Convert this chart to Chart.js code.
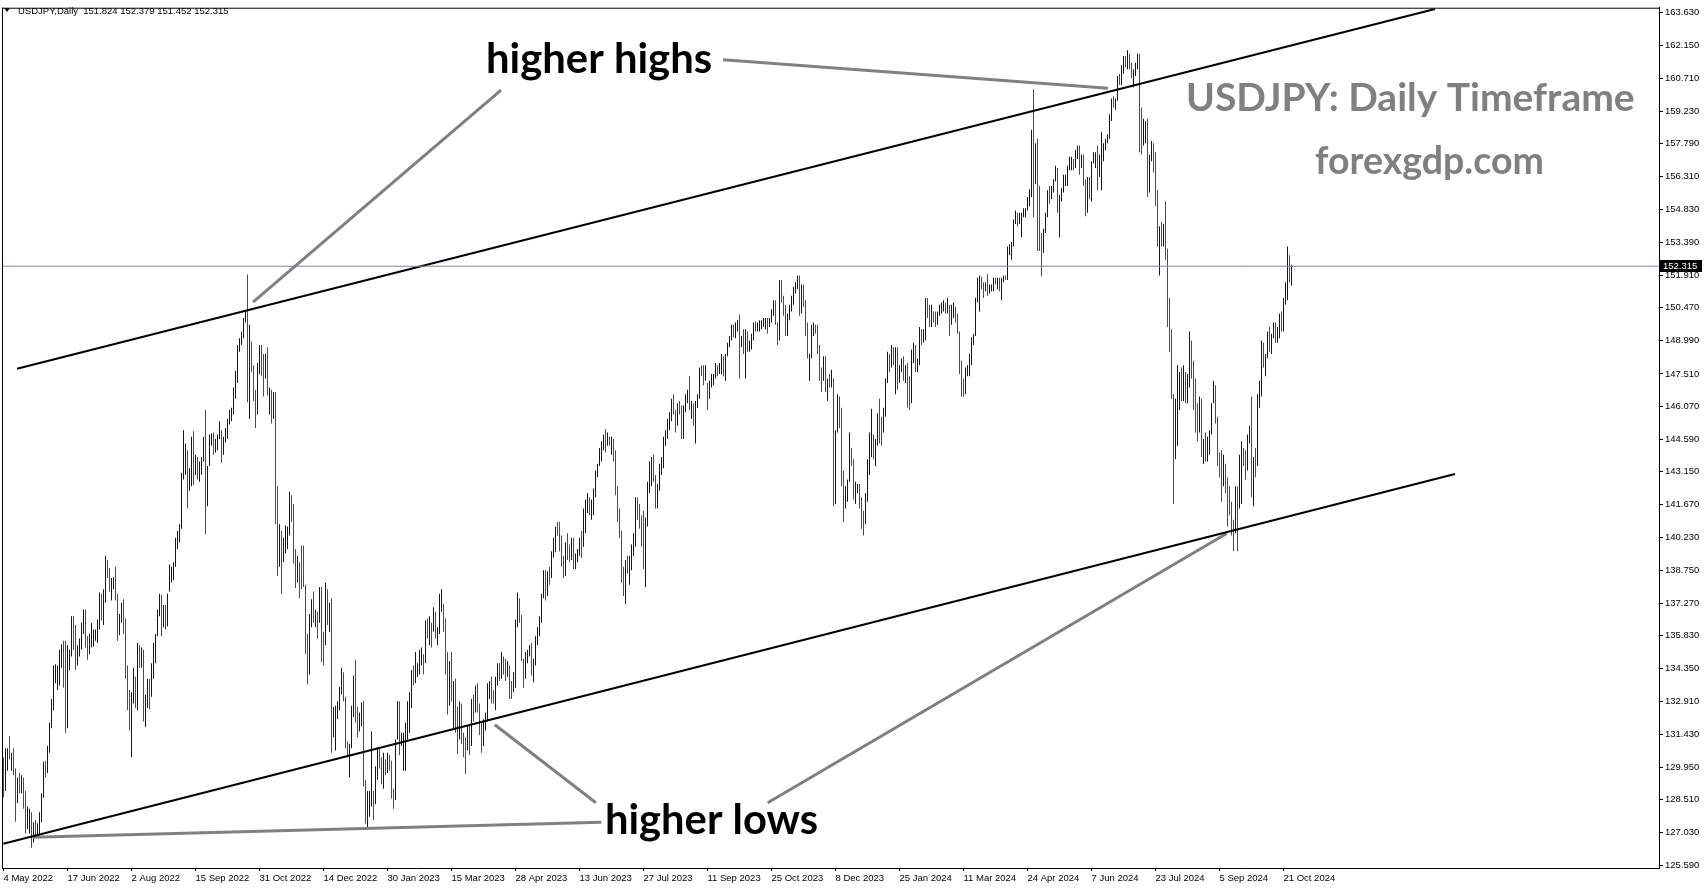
<!DOCTYPE html>
<html>
<head>
<meta charset="utf-8">
<title>USDJPY Daily</title>
<script src="https://cdn.jsdelivr.net/npm/chart.js@4.4.1/dist/chart.umd.min.js"></script>
<style>
  html, body { margin: 0; padding: 0; background: #fff; }
  #wrap { width: 1705px; height: 888px; }
</style>
</head>
<body>
<div id="wrap"><canvas id="chart" width="1705" height="888"></canvas></div>
<script>
// DATA : daily bars, 4 May 2022 -> 25 Oct 2024 (one line per month) ------------

const firstOpen = 130.08;

const highs = [
  130.4,130.8,130.8, 131.35,130.6,130.8,129.9,129.5, 129.7,129.6,129.5,128.9,128.2, 128.1,127.95,127.5,127.6,127.45, 127.95,128.8,
  130.2,130.25,130.9, 131.95,133,134.5,134.55,134.5, 135.2,135.45,135.6,135.6,135.4, 135.2,136.7,136.7,136.3,135.4, 135.7,136.4,137,137,
  135.8, 135.9,136.4,136.1,136.1,136.55, 137.75,137.7,137.9,139.4,139.2, 138.85,138.4,138.45,138.9,137.7, 136.8,137.3,137.45,136.6,134.5,
  133.4,133.3,134.4,134,135.5, 135.4,135.3,135.2,133.2,133.9, 133.9,134.6,135.5,135.9,137, 137.7,137.65,137.2,137.2,137.7, 139,138.9,139.1,
  140.2,140.5, 140.8,143.1,145,144.4,144.1, 143.3,144.7,144.95,143.9,143.8, 143.6,143.8,144.7,145.9,143.4, 144.8,144.85,144.9,144.6,144.8,
  145.4,145,144.7,145.1,145.5, 145.9,146,146.9,147.65,148.8, 149.1,149.4,150,150.3,151.95, 149.7,148.95,147.9,146.8,148, 148.8,
  148.8,148.4,148.4,148.7, 146.9,146.8,146.7,146.7,142.5, 140.8,140.5,140.2,140.75,140.7, 142.25,142.1,141.7,139.7,139.4, 139.1,139.85,139.85,
  138.1,135.9, 136.8,137.45,137.8,137,136.9, 138,138,136,138.2,137.9, 137.3,137.5,132.65,132.7,132.9, 133.55,134.4,134.2,133.1,
  131.1,131,132.7,134.05,134.75, 132.65,132.4,132.85,132.9,129.4, 128.9,128.9,131.55,128.9,130, 130.85,130.8,130.4,130.6,130.3, 130.6,130.5,
  130.25,129,131.2, 132.9,132.9,131.5,131.5,131.95, 132.9,133.3,134.3,134.5,135.1, 134.6,135.2,135.3,135,136.5, 136.6,136.7,
  136.4,137.1,136.9, 136.2,137.7,137.9,137.25,136.6, 135.1,134.7,135.1,133.8,133.9, 132.65,132.9,132.8,131.5,131.3, 131.8,131.8,133,133.2,133.6,
  133.7,132.8,131.95,132.1,132.4, 133.7,133.8,134,133.4,134, 134.6,134.6,135.1,134.9,134.8, 134.7,134.5,133.8,134.2,136.55,
  137.75,137.5,136.75,134.8,135.1, 135.2,135.4,135.5,134.8,135.8, 136.2,136.7,137.7,138.75,138.75, 138.7,138.9,139.6,140.2,140.7, 140.9,140.9,140.3,
  139.4,140, 140.4,139.9,140.2,140.2,139.5, 139.7,140.2,140.5,141.5,141.9, 142.2,142,141.9,142.4,143.2, 143.5,144.2,144.5,144.8,145.05,
  144.9,144.7,144.7,144.6,144.1, 142.5,141.5,140.5,138.9,139.2, 139.4,139.4,139.9,140.4,142, 142,141.7,141.2,141.4,141.1, 142.7,
  143.6,143.8,143.9,143, 142.6,143.5,143.8,144.7,145, 145.5,145.8,146.4,146.6,145.9, 146.2,146.3,146.1,146.1,146.6, 146.8,147.4,146.3,146.2,
  146.3, 146.6,147.8,147.9,147.9,147.9, 147.1,147.2,147.5,147.5,148, 147.9,148,148.4,148.3,148.4, 148.9,149.2,149.7,149.7,149.8,
  149.9,150.15,149.2,149.5,149.5, 149.4,149,149.3,149.8,149.85, 149.8,149.9,149.9,150,150, 150,150,150.4,150.8,150.8, 149.8,151.7,
  151.7,151,150.6, 150.2,150.6,151,151.4,151.6, 151.9,151.9,151.5,151.5,150.8, 149.8,148.4,149.7,149.8,149.7, 149.7,148.8,147.8,148.3,
  148.3, 147.3,147.5,147.7,147.3,145, 146.6,146.5,146,143.2,142.5, 142.8,144.9,144.2,143.7,142.7, 142.6,142.6,142,141.4,
  142.2,143.7,144.9,145.95, 144.8,144.6,145.75,146.4,145.6, 146,147.3,148.5,148.4,148.8, 148.7,148.7,148.7,147.9,148.2, 148.3,147.9,148,
  147.4,148.6, 148.9,148.8,148.2,149.6,149.5, 149.5,150.9,150.9,150.6,150.6, 150.3,150.3,150.3,150.6,150.7, 150.8,150.7,150.9,150.6,
  150.6, 150.7,150.5,150.2,149.4,148.1, 147.3,147.8,147.9,148.4,149.15, 149.3,150.9,151.8,151.9,151.85, 151.6,151.6,151.97,151.5,151.5,
  151.8,151.8,151.8,151.8,151.8, 151.9,151.9,153.2,153.3,153.4, 154.4,154.8,154.7,154.7,154.7, 154.9,154.9,155.4,155.75,158.4, 160.2,157.8,
  158,155.9,153.8, 154,154.7,155.7,155.9,155.9, 156.2,156.8,156.7,155.5,155.8, 156.4,156.4,156.8,157.2,157.2, 157.1,157.5,157.7,157.7,157.3,
  157.3,156.2,156.3,156.3,157, 157.4,157.4,157.7,157.3,158.3, 157.8,158,158.2,159.1,159.8, 159.9,159.8,160.8,160.9,161.3,
  161.7,161.7,161.95,161.8,161.4, 161.1,161.4,161.8,161.8,159.4, 158.9,158.8,158.9,157.3,157.9, 157.8,157.4,155.7,154.1,154.3, 154.2,155.2,153.1,
  150.9,149.5, 146.6,146.4,147.9,147.6,147.8, 147.9,147.6,147.5,149.4,149, 148.1,147.3,146.2,146.5,146.4, 144.6,144.9,144.7,145,146.2,
  147.2,147,145.6,144,144.1, 143.9,143.5,142.9,142.5,141.8, 141,142.5,142.5,143.9,144.5, 144.2,144.1,144.8,145.2,146.5, 143.8,
  144.2,146.6,147.2,149, 148.9,148.4,149.4,149.6,149.3, 149.8,149.8,149.6,150.2,150.3, 150.9,151.6,153.2,152.8,152.379
];

const lows = [
  128.62,128.9,129.8, 130.3,129.8,129.6,127.52,128.35, 128.8,128.8,128.1,127,127.2, 127,126.36,126.6,126.8,126.9, 126.9,127.5,
  128.6,129.5,129.7, 130.6,131.7,132.5,133.7,133.4, 133.6,134.4,133.5,131.5,131.7, 134.3,134.9,135.2,134.3,134.5, 134.9,135.2,135.9,135.3,
  134.75, 135,135.3,135.35,135.6,135.5, 136.1,136.5,136.3,137.3,138.4, 137.8,137.4,137.9,137.4,135.6, 135.85,136.4,135.9,133.9,132.5,
  131.6,130.4,132.8,132.6,132.5, 134.4,134.4,132,131.75,132.6, 132.55,133.1,133.9,134.6,135.8, 136.7,135.8,136.2,136.1,136.25, 137.8,138.2,138.3,
  138.9,139.7, 140,140.6,142.8,143,141.5, 142.3,142.5,142.55,143,142.8, 142.7,143,143.6,140.35,141.6, 143.4,144.3,143.9,144,144.1,
  144.6,143.55,143.9,144.45,144.6, 145.25,145.4,145.7,146.4,147.1, 148.5,148.8,149.1,149.8,146.25, 145.5,147.6,146.3,145.1,145.7, 147.5,
  147.4,146.5,147.3,146.55, 145.7,145.3,145.5,140.8,138.5, 138.9,137.7,139.1,139.5,139.7, 140.3,140.9,139.05,137.95,138.2, 137.5,137.9,138,
  135,133.65, 134.1,136.2,136.4,136.2,135.7, 136.4,134.65,134.5,135.4,136.3, 136,130.6,131.3,130.7,132.1, 132.5,133.2,132.9,130.8,
  130.4,129.5,130.8,132.2,131.95, 131.3,131.55,131.8,129.1,127.45, 127.2,127.75,128.2,127.6,128.3, 129.4,129.9,129.2,129,129.6, 129.7,129.8,
  128.55,128.1,128.5, 131.2,130.5,130.9,129.8,129.8, 131.2,131.5,132.6,133.6,133.7, 134,134.1,134.5,134.1,134.6, 135.7,135.4,
  135.3,136,135.7, 135.4,135.9,136.9,136,134.1, 132.3,132.7,132.9,131.7,131.5, 130.55,131.2,131,130.4,129.65, 130.7,130.5,130.9,132,132.4,
  132.4,131.4,130.6,130.9,131.6, 132,133,132.8,132.8,132.5, 133.6,133.8,133.9,134.1,133.8, 134,133,133,133.3,133.5,
  136.2,136.4,134.7,133.5,133.9, 134.6,134.9,134.05,133.75,134.5, 135.4,135.8,136.4,137.5,137.4, 137.6,138.1,138.4,139.3,139.55, 140.3,139.6,138.9,
  138.4,138.5, 139.2,139.1,139.2,138.8,138.8, 139.1,139.4,139.3,139.8,140.4, 141.3,141.2,141,141.2,142, 142.9,143.4,143.6,144.1,144,
  144.3,144.3,143.9,143.6,142.1, 140.9,140.2,138.2,137.6,137.25, 138.6,138.1,138.75,139.4,139.8, 141,140.6,139.8,138.8,138, 140.7,
  142.2,142.5,142.7,141.5, 141.5,142.3,143,143.3,144.3, 144.6,145,145.4,145.7,144.9, 145.2,145.7,144.6,144.6,145.8, 146.2,145.9,145.5,145.2,
  144.4, 146,146.4,147.4,147,147.2, 145.9,146.4,146.9,147,147.3, 147.4,147.5,147.5,147.4,147.2, 148.3,148.7,149,149.15,149.1,
  149.4,147.3,148.7,148.4,147.3, 148.5,148.5,148.6,149,149.4, 149.4,149.4,149.5,149.6,149.5, 149.3,149.6,149.8,150.1,149.7, 148.8,149,
  150.7,150.1,149.2, 149.2,149.9,150.3,150.6,151.1, 151.3,150.1,150.2,150.5,149.2, 148.2,147.2,148.2,149.2,149.3, 148.4,147.2,146.7,147.2,
  146.7, 146.3,146.9,146.9,141.6,141.7, 144.9,145.1,142.5,140.9,141.5, 141.8,142.7,143.4,141.9,141.7, 142.2,141.5,140.6,140.3,
  140.8,141.8,143,143.8, 143.7,143.4,144.3,144.4,144.3, 144.9,145.6,147.1,147.6,147.8, 147.9,146.6,146.8,147.1,147.6, 147.2,147.1,146,
  145.9,146.2, 148,147.6,147.6,147.9,148.8, 148.9,149,150,149.6,149.6, 149.8,149.6,149.7,150.1,150.2, 150.3,150.2,150.2,149.2,
  149.7, 150,149.8,149.3,147.5,146.5, 146.48,146.6,147.4,147.4,147.9, 148.8,149.2,150.7,150.3,151.3, 150.9,151.2,151,151.1,151.2,
  151.2,151.5,151.3,151.2,150.8, 151.6,151.7,151.7,152.8,152.6, 153.2,154.2,154.1,154.2,153.6, 154.5,154.5,154.8,155,155.4, 154.5,156,
  153,153,151.86, 152.9,153.8,154.5,155.1,155.3, 155.6,156.1,154.7,153.6,155.2, 155.6,155.9,155.9,156.6,156.6, 156.6,156.7,157.1,156.4,156.7,
  155.9,154.55,154.7,155.3,155.2, 156.9,156.7,155.7,156.3,155.7, 157,157.5,157.8,158,158.8, 159.4,159.3,159.7,160.4,160.4,
  160.9,161.2,161.1,161.1,160.7, 160.3,160.8,161.1,157.4,157.3, 157.7,157.8,155.4,155.6,157, 156.5,155,153.2,151.9,153.2, 153.2,152.6,149.6,
  148.5,146.4, 141.7,143.7,144.3,145.9,146.3, 146.3,146.2,146.2,146.9,147.3, 145.9,144.9,144.5,144.9,143.8, 143.5,143.6,143.6,143.9,144.8,
  146.2,145.3,143.4,142.9,141.8, 142.5,142.2,140.7,141.2,140.3, 139.6,140.4,139.6,141.5,141.7, 143.4,142.8,143.2,144.4,142, 141.6,
  142.9,143.4,146,146.5, 147.8,147.4,148.2,148.5,148.4, 149.1,148.9,148.9,149.1,149.4, 149.4,150.6,150.8,151.6,151.452
];

const closes = [
  129.08,130.2,130.55, 130.3,130.45,129.95,128.35,129.2, 129.1,129.4,128.25,127.8,127.87, 127.9,126.85,127.35,127.1,127.1, 127.6,128.7,
  130.1,129.85,130.85, 131.9,132.6,134.25,134.35,134.4, 134.4,135.45,134.4,132.2,134.95, 135,136.6,136.2,134.9,135.2, 135.45,136.15,136.6,135.75,
  135.2, 135.7,135.9,135.9,136,136.1, 137.4,136.85,137.4,138.95,138.55, 138.15,138.2,138.2,137.4,136.1, 136.65,136.95,136.6,134.25,133.25,
  131.6,133.15,133.9,133,135, 134.9,135,132.9,133,133.45, 133.3,134.2,134.95,135.9,136.9, 137.45,136.75,137.1,136.5,137.5, 138.7,138.75,138.95,
  140.2,140.2, 140.55,142.8,144,144.1,142.6, 142.8,144.6,143.2,143.5,142.9, 143.2,143.7,144.1,142.35,143.35, 144.7,144.8,144.15,144.45,144.75,
  144.8,144.05,144.55,145.1,145.3, 145.7,145.7,146.85,147.2,148.7, 149,149.25,149.85,150.15,147.65, 148.95,147.9,146.4,146.3,147.55, 148.7,
  148.2,147.85,148.05,146.6, 146.6,145.6,146.4,141,138.8, 139.9,139.3,139.5,140.25,140.35, 142.1,141.2,139.6,138.5,139.15, 138.9,138.7,138.1,
  135.3,134.3, 136.7,137,136.6,136.6,136.55, 137.7,135.6,135.5,137.75,136.7, 136.9,131.65,132.4,132.4,132.8, 133.5,134.3,133.1,131.1,
  130.7,131,132.45,133.4,132.1, 131.9,132.25,132.4,129.25,127.85, 128.55,128.6,128.9,128.4,129.6, 130.7,130.2,129.2,130.25,129.85, 130.4,130.1,
  128.9,128.7,131.2, 132.6,131.05,131.4,131.4,131.4, 132.4,133.15,134.1,133.9,134.2, 134.25,134.9,134.9,134.7,136.45, 136.2,136.2,
  136.1,136.75,135.85, 135.95,137.15,137.3,136.05,135, 133.2,134.25,133.4,133.75,131.8, 131.4,132.5,131.45,130.75,130.7, 131.55,130.9,132.85,132.7,132.8,
  132.5,131.7,131.3,131.8,132.2, 133.6,133.7,133.1,132.9,133.8, 134.5,134.1,134.7,134.25,134.15, 134.3,133.7,133.65,133.95,136.25,
  137.4,136.6,134.75,134.2,134.8, 135.1,135.2,134.35,134.5,135.7, 136.1,136.4,137.6,138.7,137.95, 138.6,138.5,139.45,140.05,140.6, 140.4,139.75,139.3,
  138.8,139.95, 139.6,139.55,140.1,139,139.4, 139.6,140.2,140,140.3,141.8, 141.9,141.4,141.8,142.1,143.1, 143.5,143.6,144.3,144.5,144.3,
  144.65,144.45,144.6,144.1,142.1, 141.3,140.3,138.5,138,138.8, 138.7,139.1,139.7,140.1,141.8, 141.5,140.9,140.3,139.5,141.2, 142.3,
  143.3,143.35,142.55,141.75, 142.5,143.35,143.7,144.7,144.95, 145.55,145.55,146.35,146.1,145.4, 146.2,145.9,144.8,146,146.4, 146.5,145.9,146.2,145.5,
  146.2, 146.45,147.7,147.65,147.3,147.8, 146.6,147.1,147.45,147.45,147.85, 147.6,147.9,148.35,147.6,148.35, 148.85,149.05,149.6,149.3,149.35,
  149.85,149,149.1,148.5,149.3, 148.5,148.75,149.15,149.8,149.55, 149.7,149.8,149.8,149.85,149.85, 149.7,149.9,150.35,150.4,149.65, 149.1,151.7,
  150.95,150.45,149.4, 150.1,150.4,150.9,151.3,151.5, 151.7,150.4,151.4,150.75,149.6, 148.3,148.4,149.55,149.55,149.4, 148.65,147.45,147.2,148.15,
  146.8, 147.2,147.15,147.3,144.2,144.9, 146.2,145.5,142.95,141.9,142.2, 142.8,143.8,143.5,142.05,142.4, 142.4,141.8,141.4,141,
  142,143.3,144.6,144.6, 144.25,144.35,145.7,145.3,144.9, 145.75,147.2,148.15,148.1,148.15, 148.1,148.4,147.5,147.65,148.15, 147.45,147.6,146.9,
  146.45,148.4, 148.7,147.9,148.15,149.3,149.25, 149.35,150.75,150.6,149.75,150.2, 150,149.95,150.3,150.5,150.5, 150.7,150.5,150.7,149.9,
  150.1, 150.5,150,149.4,148,147.05, 146.95,147.65,147.75,148.3,149.05, 149.15,150.85,151.15,151.6,151.45, 151.4,151.55,151.3,151.35,151.35,
  151.65,151.55,151.65,151.3,151.6, 151.85,151.8,153.15,153.25,153.3, 154.25,154.7,154.4,154.6,154.6, 154.8,154.8,155.35,155.6,158.3, 156.6,157.8,
  155.5,153.1,152.95, 153.85,154.65,155.55,155.45,155.75, 156.2,156.4,154.9,155.4,155.65, 156.2,156.2,156.75,156.95,157, 156.85,157.15,157.6,156.8,157.3,
  156.1,154.8,156.1,155.6,156.75, 157.1,157.2,156.7,157,157.4, 157.7,157.85,158.1,158.9,159.7, 159.65,159.65,160.75,160.7,160.85,
  161.5,161.45,161.65,161.2,160.8, 160.85,161.3,161.65,159,157.9, 158,158.3,156.2,157.3,157.5, 157,155.6,153.9,153.9,153.7, 153.8,152.7,149.9,
  149.4,146.55, 144.2,144.3,146.7,147.2,146.6, 147.2,146.9,147.3,149.3,147.6, 146.6,145.25,145.2,146.3,144.35, 144.55,143.9,144.6,144.95,146.2,
  146.95,145.45,143.7,143.4,142.3, 143.1,142.45,142.4,141.8,140.85, 140.6,142.4,142.3,142.6,143.85, 143.6,143.25,144.75,144.8,142.2, 143.6,
  143.55,146.45,146.9,148.7, 148.2,148.2,149.3,148.6,149.1, 149.75,149.2,149.25,150.1,149.55, 150.8,151,152.7,151.82,152.315
];

// axis ticks
const dateTicks = [0, 32, 64, 96, 128, 160, 192, 224, 256, 288, 320, 352, 384, 416, 448, 480, 512, 544, 576, 608, 640];
const dateLabels = ['4 May 2022', '17 Jun 2022', '2 Aug 2022', '15 Sep 2022', '31 Oct 2022', '14 Dec 2022',
  '30 Jan 2023', '15 Mar 2023', '28 Apr 2023', '13 Jun 2023', '27 Jul 2023', '11 Sep 2023', '25 Oct 2023',
  '8 Dec 2023', '25 Jan 2024', '11 Mar 2024', '24 Apr 2024', '7 Jun 2024', '23 Jul 2024', '5 Sep 2024', '21 Oct 2024'];
const priceTicks = [163.63, 162.15, 160.71, 159.23, 157.79, 156.31, 154.83, 153.39, 151.91, 150.47, 148.99,
  147.51, 146.07, 144.59, 143.15, 141.67, 140.23, 138.75, 137.27, 135.83, 134.35, 132.91, 131.43, 129.95,
  128.51, 127.03, 125.59];

const lastPrice = 152.315;
const headerText = 'USDJPY,Daily  151.824 152.379 151.452 152.315';

// trend lines, in (bar index, price)
const upperChannel = [[6.75, 147.74], [715.75, 163.79]];
const lowerChannel = [[-0.1, 126.54], [725.75, 143.04]];
const highsPointerA = [[124.75, 150.71], [248.75, 160.17]];
const highsPointerB = [[359.75, 161.53], [552.25, 160.26]];
const lowsPointerA = [[14.55, 126.83], [298.9, 127.5]];
const lowsPointerB = [[245.65, 131.85], [296.2, 128.37]];
const lowsPointerC = [[382.1, 128.37], [611.55, 140.39]];

// CHART : -------------------------------------------------------------------

const UP = '#0000cd';
const DOWN = '#ff0000';
const AXIS_FONT = "'Liberation Sans', Arial, sans-serif";
const AXIS_SIZE = 9.5;

const barData = [];
const barColors = [];
for (let i = 0; i < closes.length; i++) {
    const open = i === 0 ? firstOpen : closes[i - 1];
    barData.push({ x: i, y: [lows[i], highs[i]] });
    barColors.push(closes[i] >= open ? UP : DOWN);
}

function segment(points, color, width) {
    return {
        type: 'line',
        data: points.map(p => ({ x: p[0], y: p[1] })),
        borderColor: color,
        borderWidth: width,
        pointRadius: 0,
        fill: false,
        tension: 0,
        order: 1
    };
}

function fitText(ctx, text, left, baseline, width, color) {
    ctx.font = "bold 40px Lato, 'Open Sans', sans-serif";
    const size = 40 * width / ctx.measureText(text).width;
    ctx.font = `bold ${size.toFixed(1)}px Lato, 'Open Sans', sans-serif`;
    ctx.fillStyle = color;
    ctx.textAlign = 'left';
    ctx.textBaseline = 'alphabetic';
    ctx.fillText(text, left, baseline);
}

const overlay = {
    id: 'overlay',
    afterDraw(chart) {
        const ctx = chart.ctx;
        const a = chart.chartArea;
        ctx.save();
        // frame top + left
        ctx.fillStyle = '#000';
        ctx.fillRect(a.left, a.top, a.right - a.left, 1);
        ctx.fillRect(a.left, a.top, 1, a.bottom - a.top);

        // header
        ctx.beginPath();
        ctx.moveTo(4, 8);
        ctx.lineTo(10, 8);
        ctx.lineTo(7, 12);
        ctx.closePath();
        ctx.fill();
        ctx.font = `${AXIS_SIZE}px ${AXIS_FONT}`;
        ctx.textBaseline = 'middle';
        ctx.fillText(headerText, 18, 11);

        // last price box
        const py = Math.round(chart.scales.y.getPixelForValue(lastPrice));
        ctx.fillStyle = '#000';
        ctx.fillRect(a.right + 1, py - 6, 42, 12);
        ctx.fillStyle = '#fff';
        ctx.fillText(lastPrice.toFixed(3), a.right + 4, py + 0.5);

        // annotations
        fitText(ctx, 'higher highs', 486, 73, 226, '#000');
        fitText(ctx, 'higher lows', 605, 834, 213, '#000');
        fitText(ctx, 'USDJPY: Daily Timeframe', 1186, 111, 449, '#808080');
        fitText(ctx, 'forexgdp.com', 1315, 174, 229, '#808080');
        ctx.restore();
    }
};

new Chart(document.getElementById('chart'), {
    type: 'bar',
    data: {
        datasets: [
            {
                type: 'bar',
                data: barData,
                backgroundColor: barColors,
                borderWidth: 0,
                barThickness: 1,
                maxBarThickness: 1,
                inflateAmount: 0,
                order: 5
            },
            segment([[-0.75, lastPrice], [827.75, lastPrice]], '#778899', 1),
            segment(upperChannel, '#000', 2),
            segment(lowerChannel, '#000', 2),
            segment(highsPointerA, '#808080', 3),
            segment(highsPointerB, '#808080', 3),
            segment(lowsPointerA, '#808080', 3),
            segment(lowsPointerB, '#808080', 3),
            segment(lowsPointerC, '#808080', 3)
        ]
    },
    options: {
        responsive: false,
        devicePixelRatio: 1,
        animation: false,
        events: [],
        layout: { autoPadding: false, padding: { left: 2, top: 2, right: 0, bottom: 0 } },
        plugins: { legend: { display: false }, tooltip: { enabled: false } },
        scales: {
            x: {
                type: 'linear',
                offset: false,
                min: -0.75,
                max: 827.75,
                afterBuildTicks: s => { s.ticks = dateTicks.map(v => ({ value: v })); },
                afterFit: s => { s.height = 20; },
                grid: { offset: false, drawOnChartArea: false, tickLength: 3, color: '#000' },
                border: { color: '#000', width: 1 },
                ticks: {
                    autoSkip: false,
                    maxRotation: 0,
                    align: 'start',
                    padding: 2,
                    color: '#000',
                    font: { family: AXIS_FONT, size: AXIS_SIZE },
                    callback: (v, i) => dateLabels[i]
                }
            },
            y: {
                type: 'linear',
                position: 'right',
                min: 125.46,
                max: 163.852,
                afterBuildTicks: s => { s.ticks = priceTicks.map(v => ({ value: v })); },
                afterFit: s => { s.width = 46; },
                grid: { drawOnChartArea: false, tickLength: 4, color: '#000' },
                border: { color: '#000', width: 1 },
                ticks: {
                    color: '#000',
                    padding: 2,
                    font: { family: AXIS_FONT, size: AXIS_SIZE },
                    callback: v => v.toFixed(3)
                }
            }
        }
    },
    plugins: [overlay]
});
</script>
</body>
</html>
